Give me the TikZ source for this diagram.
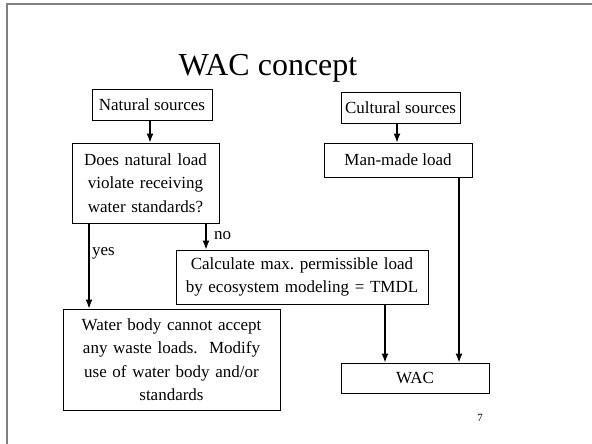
\documentclass[tikz,border=0pt]{standalone}
\usepackage{fontspec}
\setmainfont{Liberation Serif}
\usetikzlibrary{arrows.meta}
\begin{document}
\frenchspacing
\begin{tikzpicture}[x=1pt,y=-1pt,
  box/.style={draw,line width=1pt,inner sep=0pt,align=center,font=\fontsize{17}{23.5}\selectfont},
  arr/.style={line width=1.2pt,-{Latex[length=9pt,width=7pt]}},
  lab/.style={anchor=west,inner sep=0pt,font=\fontsize{17}{20}\selectfont}]
\useasboundingbox (0,0) rectangle (592,444);
\draw[gray,line width=1.5pt] (7,444) -- (7,4) -- (592,4);
\node[inner sep=0pt,font=\fontsize{32}{36}\selectfont] (title) at (268,68) {WAC concept};
\node[box,minimum width=120pt,minimum height=30pt] (nat) at (152,105) {Natural sources};
\node[box,minimum width=119pt,minimum height=30pt] (cul) at (400.5,108) {Cultural sources};
\node[box,minimum width=147pt,minimum height=80pt,text width=140pt] (q) at (145.5,183) {Does natural load\\violate receiving\\water standards?};
\node[box,minimum width=148pt,minimum height=34pt] (man) at (398,160) {Man-made load};
\node[box,minimum width=252pt,minimum height=54pt,text width=245pt] (calc) at (302,277) {Calculate max. permissible load\\by ecosystem modeling = TMDL};
\node[box,minimum width=217pt,minimum height=101pt,text width=210pt] (wb) at (171.5,359.5) {Water body cannot accept\\any waste loads.\ \ Modify\\use of water body and/or\\standards};
\node[box,minimum width=148pt,minimum height=30pt] (wac) at (415,378) {WAC};
\draw[arr] (nat.south -| 150,0) -- (q.north -| 150,0);
\draw[arr] (cul.south -| 397,0) -- (man.north -| 397,0);
\draw[arr] (q.south -| 89,0) -- (wb.north -| 89,0);
\draw[arr] (q.south -| 206,0) -- (calc.north -| 206,0);
\draw[arr] (calc.south -| 385,0) -- (wac.north -| 385,0);
\draw[arr] (man.south -| 459,0) -- (wac.north -| 459,0);
\node[lab] (yes) at (92,253) {yes};
\node[lab] (no) at (214,236) {no};
\node[inner sep=0pt,font=\fontsize{11}{12}\selectfont] (num) at (480,418) {7};
\end{tikzpicture}
\end{document}
